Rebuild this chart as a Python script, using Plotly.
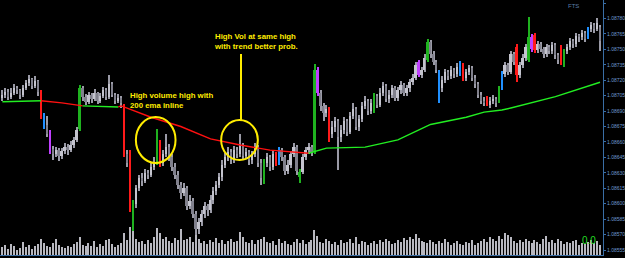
import numpy as np
import plotly.graph_objects as go

# ---------------- data (EURUSD-like bars) ----------------
opens = [1.08703,1.08706,1.08709,1.08704,1.08708,1.08712,1.08710,1.08706,1.08712,1.08717,
 1.08721,1.08714,1.08719,1.08709,1.08685,1.08676,1.08668,1.08653,1.08648,1.08652,
 1.08646,1.08651,1.08655,1.08652,1.08657,1.08662,1.08673,1.08712,1.08704,1.08699,
 1.08706,1.08702,1.08708,1.08700,1.08705,1.08710,1.08704,1.08716,1.08706,1.08700,
 1.08703,1.08695,1.08648,1.08645,1.08568,1.08600,1.08615,1.08625,1.08622,1.08630,
 1.08628,1.08636,1.08641,1.08658,1.08640,1.08648,1.08655,1.08645,1.08636,1.08628,
 1.08618,1.08610,1.08615,1.08598,1.08603,1.08590,1.08575,1.08582,1.08590,1.08598,
 1.08594,1.08604,1.08612,1.08618,1.08626,1.08638,1.08645,1.08650,1.08643,1.08652,
 1.08648,1.08657,1.08646,1.08650,1.08642,1.08648,1.08655,1.08640,1.08622,1.08640,
 1.08645,1.08636,1.08648,1.08640,1.08652,1.08645,1.08632,1.08638,1.08648,1.08655,
 1.08626,1.08631,1.08645,1.08652,1.08655,1.08650,1.08730,1.08708,1.08695,1.08688,
 1.08692,1.08668,1.08675,1.08680,1.08665,1.08672,1.08680,1.08670,1.08685,1.08692,
 1.08675,1.08682,1.08695,1.08700,1.08690,1.08692,1.08705,1.08696,1.08708,1.08714,
 1.08702,1.08706,1.08712,1.08703,1.08710,1.08715,1.08708,1.08712,1.08718,1.08722,
 1.08738,1.08725,1.08730,1.08740,1.08757,1.08745,1.08738,1.08728,1.08712,1.08720,
 1.08728,1.08724,1.08730,1.08726,1.08726,1.08735,1.08722,1.08728,1.08732,1.08722,
 1.08716,1.08706,1.08700,1.08703,1.08696,1.08700,1.08702,1.08700,1.08712,1.08726,
 1.08735,1.08728,1.08745,1.08752,1.08725,1.08735,1.08742,1.08740,1.08762,1.08764,
 1.08749,1.08755,1.08750,1.08745,1.08752,1.08748,1.08754,1.08744,1.08752,1.08735,
 1.08748,1.08752,1.08758,1.08755,1.08763,1.08762,1.08766,1.08762,1.08770,1.08774,
 1.08770,1.08772]

highs = [1.08710,1.08712,1.08711,1.08712,1.08716,1.08714,1.08711,1.08715,1.08720,1.08725,
 1.08722,1.08724,1.08720,1.08710,1.08688,1.08685,1.08672,1.08656,1.08655,1.08654,
 1.08654,1.08659,1.08658,1.08661,1.08665,1.08675,1.08715,1.08714,1.08707,1.08709,
 1.08708,1.08711,1.08709,1.08708,1.08713,1.08712,1.08725,1.08718,1.08708,1.08707,
 1.08705,1.08697,1.08652,1.08652,1.08604,1.08618,1.08628,1.08630,1.08634,1.08633,
 1.08640,1.08645,1.08673,1.08662,1.08652,1.08668,1.08658,1.08648,1.08640,1.08632,
 1.08621,1.08620,1.08617,1.08608,1.08606,1.08593,1.08586,1.08594,1.08602,1.08600,
 1.08608,1.08616,1.08622,1.08630,1.08642,1.08649,1.08655,1.08653,1.08656,1.08655,
 1.08668,1.08659,1.08654,1.08652,1.08651,1.08659,1.08657,1.08643,1.08643,1.08649,
 1.08647,1.08652,1.08650,1.08655,1.08654,1.08647,1.08642,1.08651,1.08659,1.08657,
 1.08634,1.08648,1.08655,1.08659,1.08657,1.08736,1.08733,1.08710,1.08698,1.08696,
 1.08694,1.08680,1.08684,1.08682,1.08676,1.08684,1.08682,1.08689,1.08698,1.08694,
 1.08686,1.08699,1.08705,1.08702,1.08702,1.08708,1.08707,1.08712,1.08718,1.08716,
 1.08710,1.08715,1.08714,1.08713,1.08719,1.08717,1.08715,1.08721,1.08726,1.08738,
 1.08740,1.08733,1.08745,1.08760,1.08759,1.08748,1.08740,1.08730,1.08724,1.08731,
 1.08730,1.08734,1.08732,1.08737,1.08739,1.08737,1.08731,1.08735,1.08734,1.08725,
 1.08718,1.08709,1.08704,1.08705,1.08704,1.08706,1.08704,1.08714,1.08729,1.08738,
 1.08737,1.08748,1.08747,1.08755,1.08738,1.08745,1.08755,1.08781,1.08765,1.08766,
 1.08758,1.08757,1.08752,1.08755,1.08754,1.08757,1.08756,1.08746,1.08754,1.08750,
 1.08755,1.08761,1.08760,1.08766,1.08765,1.08769,1.08768,1.08772,1.08777,1.08776,
 1.08780,1.08774]

lows = [1.08700,1.08703,1.08701,1.08702,1.08706,1.08707,1.08702,1.08704,1.08710,1.08714,
 1.08711,1.08712,1.08705,1.08682,1.08673,1.08665,1.08648,1.08642,1.08645,1.08641,
 1.08643,1.08648,1.08647,1.08650,1.08654,1.08660,1.08671,1.08700,1.08696,1.08697,
 1.08698,1.08700,1.08697,1.08698,1.08703,1.08701,1.08702,1.08704,1.08697,1.08698,
 1.08693,1.08645,1.08636,1.08592,1.08562,1.08596,1.08612,1.08617,1.08620,1.08624,
 1.08626,1.08633,1.08638,1.08636,1.08637,1.08645,1.08641,1.08632,1.08624,1.08614,
 1.08605,1.08607,1.08594,1.08595,1.08586,1.08565,1.08571,1.08578,1.08586,1.08588,
 1.08591,1.08600,1.08608,1.08615,1.08622,1.08635,1.08641,1.08639,1.08640,1.08644,
 1.08645,1.08642,1.08643,1.08638,1.08639,1.08645,1.08636,1.08618,1.08619,1.08636,
 1.08632,1.08633,1.08637,1.08638,1.08641,1.08628,1.08629,1.08635,1.08645,1.08628,
 1.08620,1.08629,1.08642,1.08648,1.08646,1.08648,1.08705,1.08690,1.08680,1.08684,
 1.08660,1.08664,1.08670,1.08633,1.08660,1.08668,1.08666,1.08668,1.08682,1.08672,
 1.08671,1.08679,1.08692,1.08686,1.08687,1.08688,1.08693,1.08694,1.08705,1.08699,
 1.08698,1.08703,1.08700,1.08700,1.08707,1.08705,1.08705,1.08709,1.08715,1.08720,
 1.08723,1.08722,1.08728,1.08738,1.08742,1.08735,1.08727,1.08698,1.08709,1.08717,
 1.08720,1.08721,1.08722,1.08723,1.08724,1.08719,1.08719,1.08725,1.08719,1.08712,
 1.08703,1.08697,1.08695,1.08695,1.08693,1.08697,1.08694,1.08698,1.08710,1.08723,
 1.08725,1.08726,1.08735,1.08718,1.08722,1.08732,1.08739,1.08738,1.08747,1.08746,
 1.08746,1.08747,1.08742,1.08743,1.08745,1.08745,1.08741,1.08736,1.08735,1.08733,
 1.08745,1.08749,1.08751,1.08752,1.08757,1.08759,1.08757,1.08760,1.08767,1.08766,
 1.08768,1.08748]

closes = [1.08706,1.08709,1.08704,1.08708,1.08712,1.08710,1.08706,1.08712,1.08717,1.08721,
 1.08714,1.08719,1.08709,1.08685,1.08676,1.08668,1.08653,1.08648,1.08652,1.08646,
 1.08651,1.08655,1.08652,1.08657,1.08662,1.08672,1.08712,1.08704,1.08699,1.08706,
 1.08702,1.08708,1.08700,1.08705,1.08710,1.08704,1.08716,1.08706,1.08700,1.08703,
 1.08698,1.08648,1.08640,1.08598,1.08600,1.08615,1.08625,1.08622,1.08630,1.08628,
 1.08636,1.08640,1.08660,1.08640,1.08648,1.08655,1.08645,1.08636,1.08628,1.08618,
 1.08610,1.08615,1.08598,1.08603,1.08590,1.08575,1.08582,1.08590,1.08598,1.08594,
 1.08604,1.08612,1.08618,1.08626,1.08638,1.08645,1.08650,1.08643,1.08652,1.08648,
 1.08657,1.08646,1.08650,1.08642,1.08648,1.08655,1.08640,1.08625,1.08640,1.08645,
 1.08636,1.08648,1.08640,1.08652,1.08645,1.08632,1.08638,1.08648,1.08655,1.08632,
 1.08631,1.08645,1.08652,1.08655,1.08650,1.08730,1.08708,1.08695,1.08688,1.08692,
 1.08668,1.08675,1.08680,1.08665,1.08672,1.08680,1.08670,1.08685,1.08692,1.08675,
 1.08682,1.08695,1.08700,1.08690,1.08698,1.08705,1.08696,1.08708,1.08714,1.08702,
 1.08706,1.08712,1.08703,1.08710,1.08715,1.08708,1.08712,1.08718,1.08722,1.08735,
 1.08725,1.08730,1.08742,1.08757,1.08745,1.08738,1.08730,1.08712,1.08720,1.08728,
 1.08724,1.08730,1.08726,1.08733,1.08736,1.08722,1.08728,1.08732,1.08722,1.08716,
 1.08706,1.08700,1.08698,1.08696,1.08700,1.08702,1.08698,1.08712,1.08726,1.08735,
 1.08728,1.08745,1.08738,1.08725,1.08735,1.08742,1.08752,1.08762,1.08750,1.08749,
 1.08755,1.08750,1.08745,1.08752,1.08748,1.08754,1.08744,1.08740,1.08738,1.08748,
 1.08752,1.08758,1.08755,1.08763,1.08762,1.08766,1.08760,1.08770,1.08774,1.08770,
 1.08776,1.08758]

volumes = [30,38,22,44,34,20,26,52,30,40,
 24,36,42,62,48,36,30,46,62,40,
 32,28,36,30,44,52,70,40,34,46,
 36,54,30,42,36,58,62,44,30,40,
 48,88,60,110,96,64,50,56,42,60,
 48,72,104,86,62,70,56,48,66,60,
 102,58,64,72,52,80,62,48,56,44,
 60,52,66,48,58,42,54,62,50,56,
 92,70,52,48,60,44,58,64,72,50,
 46,56,40,62,48,54,44,38,50,62,
 46,58,44,52,60,98,76,52,48,64,
 56,44,50,40,58,46,52,62,48,70,
 44,56,50,38,46,54,42,58,50,62,
 56,44,48,60,52,66,58,72,62,84,
 68,56,50,46,58,52,44,56,48,62,
 50,40,46,54,44,38,52,46,58,40,
 48,56,62,50,70,64,54,76,62,88,
 80,70,56,48,60,52,64,56,46,58,
 50,44,62,74,52,58,48,64,56,42,
 50,46,54,60,40,48,44,52,58,46,
 54,40]

# highlighted (volume-signal) bars
red_bars = [13, 41, 43, 53, 92, 110, 155, 163, 173, 179, 188]
green_bars = [26, 44, 52, 88, 100, 105, 125, 143, 167, 177, 189]
magenta_bars = [16, 106, 140, 178]
blue_bars = [14, 93, 147, 154, 168, 197]

# 200 EMA (bar index, price)
ema_x = [0, 12, 13, 20, 27, 39, 40, 50, 60, 70, 80, 90, 102, 103, 109, 122, 133,
         144, 156, 162, 168, 171, 178, 186, 201]
ema_y = [1.08699, 1.08700, 1.08700, 1.08698, 1.08695, 1.08694, 1.08695, 1.08684,
         1.08675, 1.08663, 1.08657, 1.08652, 1.08649, 1.08649, 1.08654, 1.08655,
         1.08662, 1.08677, 1.08684, 1.08689, 1.08691, 1.08693, 1.08698, 1.08704,
         1.08718]
ema_segments = [(0, 13, '#22ee22'), (13, 27, '#ff1010'), (27, 39, '#22ee22'),
                (39, 103, '#ff1010'), (103, 201, '#22ee22')]

price_ticks = [1.08795, 1.08780, 1.08765, 1.08750, 1.08735, 1.08720, 1.08705,
               1.08690, 1.08675, 1.08660, 1.08645, 1.08630, 1.08615, 1.08600,
               1.08585, 1.08570, 1.08555]

# ---------------- build figure ----------------
o = np.array(opens); h = np.array(highs); l = np.array(lows); c = np.array(closes)
idx = np.arange(len(c))

body_col = np.where(c >= o, '#c4c4ce', '#80808c').astype(object)
wick_col = np.array(['#9a9aa6'] * len(c), dtype=object)
for lst, col in [(red_bars, '#ff1a1a'), (green_bars, '#1fb21f'),
                 (magenta_bars, '#c040ff'), (blue_bars, '#2090ff')]:
    for i in lst:
        body_col[i] = col
        wick_col[i] = col

fig = go.Figure()

# volume (own scale, bottom)
fig.add_trace(go.Bar(x=idx, y=volumes, yaxis='y2', width=0.42,
                     marker=dict(color='#b8b8c0', line=dict(width=0)),
                     hoverinfo='skip'))

# wicks
fig.add_trace(go.Bar(x=idx, y=h - l, base=l, width=0.34,
                     marker=dict(color=list(wick_col), line=dict(width=0)),
                     hoverinfo='skip'))
# bodies
fig.add_trace(go.Bar(x=idx, y=np.maximum(np.abs(c - o), 0.000012),
                     base=np.minimum(o, c), width=0.6,
                     marker=dict(color=list(body_col), line=dict(width=0)),
                     hoverinfo='skip'))

# EMA
ex = np.array(ema_x); ey = np.array(ema_y)
for a, b, col in ema_segments:
    m = (ex >= a) & (ex <= b)
    fig.add_trace(go.Scatter(x=ex[m], y=ey[m], mode='lines',
                             line=dict(color=col, width=1.4), hoverinfo='skip'))

W_PLOT = 608.0
H_PLOT = 255.0
def px(xp):
    return xp / W_PLOT
def py(yp):
    return 1 - yp / H_PLOT

yellow = '#ffec00'
fig.add_shape(type='circle', xref='paper', yref='paper',
              x0=px(137), x1=px(177), y0=py(163), y1=py(117),
              line=dict(color=yellow, width=2))
fig.add_shape(type='circle', xref='paper', yref='paper',
              x0=px(223), x1=px(260), y0=py(160), y1=py(120),
              line=dict(color=yellow, width=2))
fig.add_shape(type='line', xref='paper', yref='paper',
              x0=px(243), x1=px(243), y0=py(54), y1=py(121),
              line=dict(color=yellow, width=2))

txt_font = dict(family='Liberation Sans, Arial, sans-serif', size=7.8, color=yellow)
fig.add_annotation(xref='paper', yref='paper', x=px(129), y=py(89),
                   xanchor='left', yanchor='top', showarrow=False, align='left',
                   text='<b>High volume high with<br>200 ema inline</b>', font=txt_font)
fig.add_annotation(xref='paper', yref='paper', x=px(214), y=py(30),
                   xanchor='left', yanchor='top', showarrow=False, align='left',
                   text='<b>High Vol at same high<br>with trend better prob.</b>', font=txt_font)
fig.add_annotation(xref='paper', yref='paper', x=px(578), y=py(1),
                   xanchor='center', yanchor='top', showarrow=False,
                   text='FTS', font=dict(family='Liberation Sans, Arial', size=6, color='#5a7ea8'))
fig.add_annotation(xref='paper', yref='paper', x=px(594), y=py(240),
                   xanchor='center', yanchor='middle', showarrow=False,
                   text='0.0', font=dict(family='Liberation Sans, Arial', size=10, color='#22dd22'))

axis_blue = '#3a6ea5'
fig.update_layout(
    width=625, height=258,
    margin=dict(l=0, r=17, t=0, b=3),
    paper_bgcolor='black', plot_bgcolor='black',
    showlegend=False, barmode='overlay', bargap=0,
    xaxis=dict(range=[-0.8, 202.0], showticklabels=False, showgrid=False,
               zeroline=False, showline=True, linecolor=axis_blue, linewidth=1,
               ticks=''),
    yaxis=dict(range=[1.0855014, 1.0879792], side='right', showgrid=False,
               zeroline=False, showline=True, linecolor=axis_blue, linewidth=1,
               tickvals=price_ticks, ticktext=[f'{v:.5f}' for v in price_ticks],
               ticks='outside', ticklen=2, tickcolor=axis_blue,
               tickfont=dict(family='Liberation Sans, Arial', size=5, color='#6f9bd0')),
    yaxis2=dict(range=[0, 1000], overlaying='y', visible=False),
)

fig.write_html('out.html')
